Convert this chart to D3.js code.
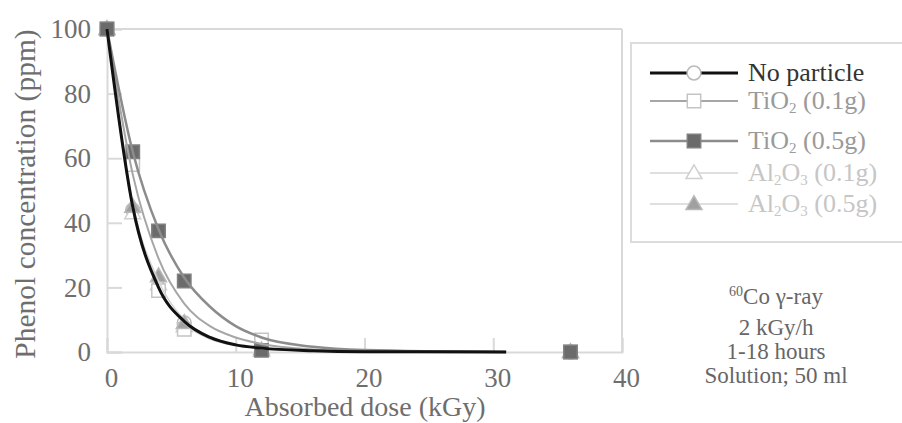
<!DOCTYPE html>
<html><head><meta charset="utf-8">
<script src="https://cdn.jsdelivr.net/npm/d3@7/dist/d3.min.js"></script>
<style>body{margin:0;background:#fff}svg{display:block}text{font-family:"Liberation Serif","Times New Roman",serif}</style>
</head><body><svg id="c" width="902" height="423"></svg>
<script>
// measured data points
const doses = [0, 2, 4, 6, 12, 36];
const noParticle = [100, 44, 20, 9, 1, 0];
const tio2Low = [100, 58, 19, 7, 3.7, 0];
const tio2High = [100, 62, 37.5, 22, 0.5, 0];
const al2o3Low = [100, 43, 21, 8, 1, 0];
const al2o3High = [100, 45, 23.5, 9, 0.5, 0];
// fitted trend curves
const trendDoses = [0, 2, 4, 6, 8, 10, 12, 16, 20, 31];
const noParticleTrend = [100, 45, 20, 9.5, 4.5, 2.2, 1.2, 0.4, 0.1, 0];
const tio2LowTrend = [100, 55, 29, 15, 8, 4.5, 2.5, 0.8, 0.3, 0];
const tio2HighTrend = [100, 62, 38, 23, 14, 8, 4.5, 1.6, 0.6, 0];
const al2o3LowTrend = [100, 44, 20, 9, 4, 2, 1, 0.3, 0.1, 0];
const al2o3HighTrend = [100, 46, 22, 10, 4.8, 2.3, 1.2, 0.4, 0.1, 0];
const xTicks = [0, 10, 20, 30, 40];
const yTicks = [0, 20, 40, 60, 80, 100];
const seriesNames = ["No particle", "TiO2 (0.1g)", "TiO2 (0.5g)", "Al2O3 (0.1g)", "Al2O3 (0.5g)"];
const notes = ["60Co γ-ray", "2 kGy/h", "1-18 hours", "Solution; 50 ml"];

const series = [
  {name: seriesNames[0], vals: noParticle, trend: noParticleTrend, stroke: "#111", sw: 3, shape: "circle", fill: "#fff", mstroke: "#bbb", text: "#333"},
  {name: seriesNames[1], vals: tio2Low, trend: tio2LowTrend, stroke: "#a6a6a6", sw: 2, shape: "square", fill: "#fff", mstroke: "#c4c4c4", text: "#9a9a9a"},
  {name: seriesNames[2], vals: tio2High, trend: tio2HighTrend, stroke: "#8c8c8c", sw: 2.5, shape: "square", fill: "#6b6b6b", mstroke: "#808080", text: "#9a9a9a"},
  {name: seriesNames[3], vals: al2o3Low, trend: al2o3LowTrend, stroke: "#d4d4d4", sw: 1.5, shape: "triangle", fill: "#fff", mstroke: "#d0d0d0", text: "#c6c6c6"},
  {name: seriesNames[4], vals: al2o3High, trend: al2o3HighTrend, stroke: "#d4d4d4", sw: 1.5, shape: "triangle", fill: "#a0a0a0", mstroke: "#b8b8b8", text: "#c6c6c6"}
];

const svg = d3.select("#c");
const L = 107, R = 622, T = 29, B = 352;
const x = d3.scaleLinear().domain([0, 40]).range([L, R]);
const y = d3.scaleLinear().domain([0, 100]).range([B, T]);
const axisColor = "#d9d9d9";

svg.append("line").attr("x1", L).attr("x2", R).attr("y1", T).attr("y2", T).attr("stroke", axisColor).attr("stroke-width", 2);
svg.append("line").attr("x1", R).attr("x2", R).attr("y1", T).attr("y2", B).attr("stroke", axisColor).attr("stroke-width", 2);

const xa = svg.append("g").attr("transform", `translate(0,${B})`)
  .call(d3.axisBottom(x).tickValues(xTicks).tickSize(-14).tickPadding(16));
const ya = svg.append("g").attr("transform", `translate(${L},0)`)
  .call(d3.axisLeft(y).tickValues(yTicks).tickSize(-15).tickPadding(16));
[xa, ya].forEach(g => {
  g.select(".domain").attr("stroke", axisColor).attr("stroke-width", 2);
  g.selectAll(".tick line").attr("stroke", axisColor).attr("stroke-width", 2);
  g.selectAll(".tick text").attr("font-size", 27).attr("fill", "#6e6e6e").attr("font-family", "Liberation Serif");
});
xa.selectAll(".tick text").attr("dx", 4);

svg.append("text").attr("x", 365).attr("y", 416).attr("text-anchor", "middle")
  .attr("font-size", 28).attr("fill", "#6e6e6e").text("Absorbed dose (kGy)");
svg.append("text").attr("transform", "translate(35,194) rotate(-90)").attr("text-anchor", "middle")
  .attr("font-size", 29.5).attr("fill", "#6e6e6e").text("Phenol concentration (ppm)");

const line = d3.line().x(d => x(d[0])).y(d => y(d[1])).curve(d3.curveMonotoneX);
const sym = {circle: d3.symbolCircle, square: d3.symbolSquare, triangle: d3.symbolTriangle};
function marker(g, s, cx, cy) {
  const size = s.shape === "triangle" ? 110 : (s.shape === "square" ? 180 : 150);
  g.append("path").attr("d", d3.symbol().type(sym[s.shape]).size(size)())
    .attr("transform", `translate(${cx},${cy + (s.shape === "triangle" ? 1 : 0)})`)
    .attr("fill", s.fill).attr("stroke", s.mstroke).attr("stroke-width", 1.5);
}

[0, 3, 1, 4, 2].forEach(i => {
  const s = series[i];
  const g = svg.append("g");
  doses.forEach((d, j) => marker(g, s, x(d), y(s.vals[j])));
});
[3, 4, 1, 2, 0].forEach(i => {
  const s = series[i];
  const pts = trendDoses.map((d, j) => [d, s.trend[j]]);
  svg.append("path").attr("d", line(pts)).attr("fill", "none").attr("stroke", s.stroke).attr("stroke-width", s.sw);
});

// legend
svg.append("rect").attr("x", 631).attr("y", 43).attr("width", 290).attr("height", 199)
  .attr("fill", "#fff").attr("stroke", "#dcdcdc").attr("stroke-width", 2);
const legY = [73, 101, 141, 173, 204];
series.forEach((s, i) => {
  const g = svg.append("g").attr("transform", `translate(0,${legY[i]})`);
  g.append("line").attr("x1", 650).attr("x2", 738).attr("stroke", s.stroke).attr("stroke-width", s.sw);
  marker(g, s, 694, 0);
  const t = g.append("text").attr("x", 748).attr("y", 8).attr("font-size", 26).attr("fill", s.text);
  const m = s.name.match(/^(Ti|Al)(\d)?(O)(\d)?(.*)$/);
  if (m) {
    t.append("tspan").text(m[1]);
    if (m[2]) t.append("tspan").attr("font-size", 15).attr("dy", 4).text(m[2]);
    t.append("tspan").attr("dy", m[2] ? -4 : 0).text(m[3]);
    if (m[4]) t.append("tspan").attr("font-size", 15).attr("dy", 4).text(m[4]);
    t.append("tspan").attr("dy", m[4] ? -4 : 0).text(m[5]);
  } else t.text(s.name);
});

// notes
const noteY = [304, 335, 359, 383];
notes.forEach((n, i) => {
  const t = svg.append("text").attr("x", 776).attr("y", noteY[i]).attr("text-anchor", "middle")
    .attr("font-size", 23).attr("fill", "#666");
  if (i === 0) {
    t.append("tspan").attr("font-size", 14).attr("dy", -8).text(n.slice(0, 2));
    t.append("tspan").attr("dy", 8).text(n.slice(2));
  } else t.text(n);
});
</script></body></html>
